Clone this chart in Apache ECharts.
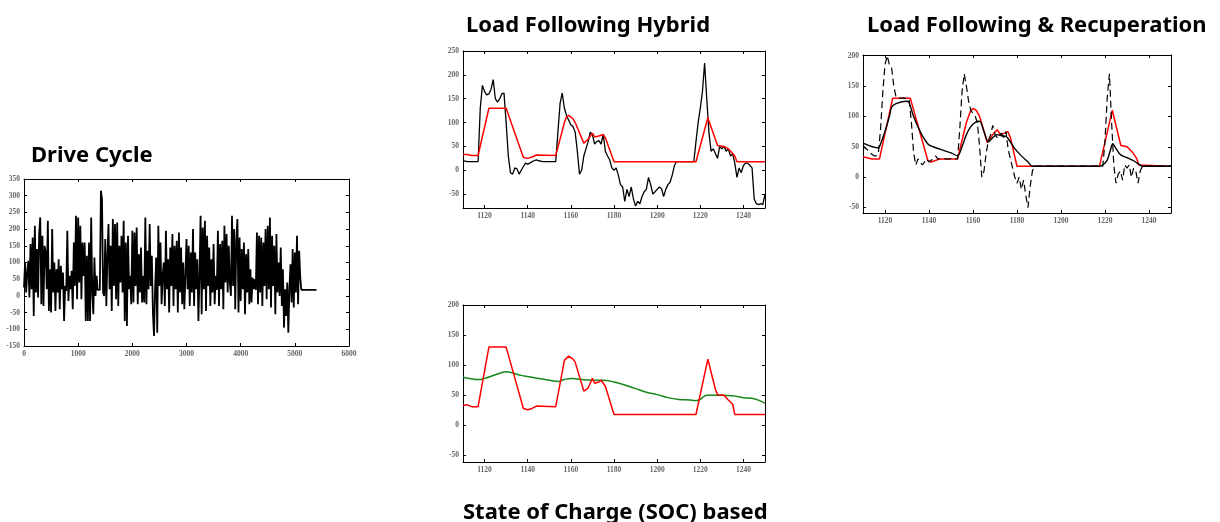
<!DOCTYPE html>
<html><head><meta charset="utf-8">
<script src="https://cdn.jsdelivr.net/npm/echarts@6/dist/echarts.min.js"></script>
<style>html,body{margin:0;padding:0;background:#fff}#c{width:1220px;height:522px}</style>
</head><body><div id="c"></div>
<script>
// ---------------- DATA ----------------
// Drive cycle: power demand sampled every 20 s from t = 0 s
const driveStart = 0;
const driveStep = 20;
const driveValues = [
  25, 100, 10, 70, 105, -5, 155, 20, 175, -60,
  210, 10, 140, -5, 185, 235, -25, 180, -30, 150,
  130, 20, 225, -45, 80, -50, 200, 10, 100, -45,
  80, 10, 110, -40, 90, 20, 70, -75, 30, 15,
  195, -15, 60, 20, 75, -40, 160, 30, 240, -10,
  235, 40, 210, -10, 160, 60, 160, -75, 120, -75,
  160, -75, 235, 10, -55, 115, 0, 60, 18, 20,
  18, 315, 290, 10, 0, 170, -30, 120, 215, 20,
  150, -45, 230, 30, 215, -10, 220, -30, 150, 40,
  180, 10, 225, -75, 160, -90, 180, 20, 60, -25,
  195, -20, 190, 30, 205, -25, 125, 10, 145, -20,
  60, -20, 235, -25, 135, 20, 215, 30, 120, -50,
  -120, 20, 115, -110, 210, 30, 160, -25, 60, 100,
  -30, 195, 20, 110, -50, 145, 30, 185, -30, 150,
  20, 165, -50, 190, 10, 145, -25, 100, -40, 60,
  170, 20, 150, -30, 130, 10, 200, -30, 130, 20,
  110, -75, 60, 240, -55, 205, 20, 225, -45, 180,
  30, 145, -30, 110, 10, 155, -25, 60, 18, 195,
  -30, 155, 20, 165, -40, 210, 40, 185, 10, 150,
  40, 0, 240, 30, 200, -40, 165, 230, -50, 175,
  -15, 140, 20, 160, -55, 125, 10, 140, -25, 80,
  -20, 55, 20, 50, 18, 190, -25, 180, 10, 175,
  -30, 160, 30, 200, -10, 210, 20, 235, -35, 180,
  30, 150, -55, 185, 10, 100, 0, 145, -30, 80,
  -95, 20, -60, 40, -110, 20, 95, -20, 140, -35,
  130, 10, 180, -25, 135, 55, 18, 18, 18, 18,
  18, 18, 18, 18, 18, 18, 18, 18, 18, 18, 18
];

// Zoomed window, 1 s samples from t = 1110 s
const zoomStart = 1110;
const zoomStep = 1;
const hybridDemand = [
  20, 19, 18, 18, 18, 18, 18, 18, 130, 178,
  165, 158, 160, 170, 190, 150, 143, 150, 160, 162,
  100, 30, -5, -8, 5, 3, -8, 0, 8, 15,
  13, 15, 18, 20, 22, 20, 19, 18, 18, 18,
  18, 18, 18, 18, 80, 140, 162, 130, 115, 105,
  95, 92, 80, 40, -8, 0, 30, 45, 60, 80,
  75, 55, 60, 62, 55, 75, 40, 30, 22, 5,
  0, 5, -10, -30, -35, -65, -40, -55, -35, -60,
  -75, -65, -70, -55, -45, -40, -15, -30, -50, -45,
  -40, -35, -38, -55, -40, -30, -25, -10, 10, 18,
  18, 18, 18, 18, 18, 18, 18, 18, 60, 100,
  130, 165, 225, 150, 80, 40, 45, 35, 25, 50,
  45, 50, 40, 45, 30, 35, 15, -15, 5, -5,
  10, 15, 15, 10, 5, -60, -70, -72, -70, -72,
  -50
];
const hybridEngineT = [1110, 1112, 1114, 1117, 1122, 1130, 1138, 1140, 1142, 1144, 1153, 1157, 1158, 1159, 1161, 1162, 1166, 1168, 1170, 1171, 1173, 1175, 1176, 1180, 1218, 1223.5, 1228, 1231, 1233, 1235, 1236, 1237, 1250];
const hybridEngineV = [33, 33, 31, 31, 130, 130, 27, 25, 28, 32, 31, 100, 112, 115, 108, 100, 57, 65, 78, 70, 72, 75, 68, 18, 18, 110, 52, 50, 45, 35, 30, 18, 18];

const recupDemand = [
  52, 48, 45, 40, 38, 35, 35, 40, 80, 140,
  185, 200, 185, 180, 150, 132, 130, 130, 130, 130,
  130, 128, 90, 40, 20, 30, 25, 20, 25, 30,
  25, 28, 30, 35, 30, 30, 30, 30, 30, 30,
  30, 30, 30, 30, 80, 140, 170, 150, 125, 110,
  105, 100, 90, 50, 0, 10, 40, 60, 70, 85,
  70, 65, 70, 72, 65, 75, 45, 30, 15, 0,
  -10, 0, -20, -5, -30, -50, -15, 10, 18, 18,
  18, 18, 18, 18, 18, 18, 18, 18, 18, 18,
  18, 18, 18, 18, 18, 18, 18, 18, 18, 18,
  18, 18, 18, 18, 18, 18, 18, 18, 18, 18,
  60, 130, 170, 90, 20, -10, 5, 10, -5, 20,
  15, 20, 0, 15, 10, -10, 10, 18, 18, 18,
  18, 18, 18, 18, 18, 18, 18, 18, 18, 18,
  18
];
const recupEngineT = [1110, 1112, 1114, 1117.5, 1123.5, 1131.5, 1139.5, 1141, 1145, 1153, 1157, 1159, 1160, 1161.5, 1163, 1166.5, 1169, 1171, 1172.5, 1174, 1175.8, 1177, 1180, 1217.5, 1223.3, 1227.2, 1230, 1232.7, 1234.5, 1235.3, 1236, 1250];
const recupEngineV = [33, 32, 30, 30, 130, 130, 27, 25, 30, 30, 90, 110, 113, 110, 100, 57, 70, 78, 70, 72, 75, 65, 18, 18, 110, 52, 50, 40, 30, 20, 18, 18];
const recupFilteredT = [1110, 1117, 1118, 1120, 1122, 1123, 1125, 1130, 1131, 1133, 1136, 1138, 1140, 1145, 1150, 1153, 1155, 1157, 1159, 1161, 1163, 1165, 1167, 1169, 1171, 1173, 1175, 1177, 1179, 1182, 1185, 1187, 1217, 1219, 1221, 1222.5, 1223.5, 1225, 1227, 1230, 1233, 1236, 1237, 1250];
const recupFilteredV = [56, 48, 55, 75, 100, 115, 121, 125, 122, 100, 75, 62, 53, 46, 40, 35, 50, 70, 83, 90, 92, 75, 58, 65, 70, 68, 67, 58, 47, 35, 25, 18, 18, 20, 28, 45, 55, 47, 37, 32, 27, 20, 18, 18];

const socEngineT = [1110, 1112, 1114, 1117, 1122, 1130, 1138, 1140, 1142, 1144, 1153, 1157, 1159, 1161, 1162, 1166, 1168, 1170, 1171, 1173, 1174, 1176, 1180, 1218, 1223.5, 1227, 1228, 1231, 1233, 1235, 1236, 1250];
const socEngineV = [33, 34, 31, 31, 130, 130, 28, 26, 28, 32, 31, 108, 115, 110, 105, 57, 62, 78, 70, 72, 75, 65, 18, 18, 110, 60, 51, 50, 42, 35, 18, 18];
const socT = [1110, 1113, 1117, 1120, 1125, 1130, 1133, 1137, 1140, 1145, 1150, 1154, 1157, 1160, 1163, 1165, 1170, 1175, 1180, 1185, 1190, 1195, 1200, 1205, 1210, 1215, 1218, 1220, 1223, 1230, 1235, 1240, 1245, 1250];
const socV = [80, 78, 76, 78, 84, 89, 87, 83, 81, 78, 75, 73, 76, 78, 77, 76, 75, 75, 72, 67, 61, 55, 51, 46, 43, 42, 41, 43, 50, 50, 49, 46, 44, 37];

// Tick labels
const driveXTicks = [0, 1000, 2000, 3000, 4000, 5000, 6000];
const driveYTicks = [-150, -100, -50, 0, 50, 100, 150, 200, 250, 300, 350];
const zoomXTicks = [1120, 1140, 1160, 1180, 1200, 1220, 1240];
const hybridYTicks = [-50, 0, 50, 100, 150, 200, 250];
const recupYTicks = [-50, 0, 50, 100, 150, 200];
const socYTicks = [-50, 0, 50, 100, 150, 200];

const titles = ['Drive Cycle', 'Load Following Hybrid', 'Load Following & Recuperation', 'State of Charge (SOC) based'];

// ---------------- BUILD ----------------
function sampled(start, step, vals) { return vals.map((v, i) => [start + i * step, v]); }
function pairs(t, v) { return t.map((x, i) => [x, v[i]]); }

const labelStyle = { color: '#666', fontSize: 7.5, fontFamily: 'Liberation Serif', fontWeight: 'bold', margin: 4, formatter: v => String(v) };
const tickBase = { show: true, inside: true, length: 3, lineStyle: { color: '#000' } };
function xAxes(g, min, max, ticks) {
  const base = { type: 'value', gridIndex: g, min, max, splitLine: { show: false },
    axisLine: { show: true, onZero: false, lineStyle: { color: '#000', width: 1 } } };
  return [
    Object.assign({}, base, { position: 'bottom', axisTick: Object.assign({ customValues: ticks }, tickBase), axisLabel: Object.assign({ customValues: ticks }, labelStyle) }),
    Object.assign({}, base, { position: 'top', axisTick: Object.assign({ customValues: ticks }, tickBase), axisLabel: { show: false } })
  ];
}
function yAxes(g, min, max, ticks) {
  const base = { type: 'value', gridIndex: g, min, max, splitLine: { show: false },
    axisLine: { show: true, onZero: false, lineStyle: { color: '#000', width: 1 } } };
  return [
    Object.assign({}, base, { position: 'left', axisTick: Object.assign({ customValues: ticks }, tickBase), axisLabel: Object.assign({ customValues: ticks }, labelStyle) }),
    Object.assign({}, base, { position: 'right', axisTick: Object.assign({ customValues: ticks }, tickBase), axisLabel: { show: false } })
  ];
}
function line(g, data, color, width, extra) {
  return Object.assign({ type: 'line', xAxisIndex: 2 * g, yAxisIndex: 2 * g, data, showSymbol: false, symbol: 'none',
    lineStyle: { color, width }, itemStyle: { color }, animation: false, clip: true, z: 2 }, extra || {});
}

const RED = '#ff0000', GREEN = '#16871a', BLACK = '#000000';
const titleFont = 'bold 22px "Noto Sans"';

const option = {
  backgroundColor: '#ffffff',
  animation: false,
  grid: [
    { left: 24, top: 179, width: 325, height: 167 },
    { left: 463, top: 51, width: 302, height: 157 },
    { left: 863, top: 55, width: 308, height: 158 },
    { left: 463, top: 305, width: 302, height: 157 }
  ],
  xAxis: [].concat(
    xAxes(0, 0, 6000, driveXTicks),
    xAxes(1, 1110, 1250, zoomXTicks),
    xAxes(2, 1110, 1250, zoomXTicks),
    xAxes(3, 1110, 1250, zoomXTicks)
  ),
  yAxis: [].concat(
    yAxes(0, -150, 350, driveYTicks),
    yAxes(1, -79, 250, hybridYTicks),
    yAxes(2, -59, 201, recupYTicks),
    yAxes(3, -61, 200, socYTicks)
  ),
  graphic: [
    { type: 'text', left: 31, top: 145, style: { text: titles[0], font: titleFont, fill: '#000' } },
    { type: 'text', left: 466, top: 15, style: { text: titles[1], font: titleFont, fill: '#000' } },
    { type: 'text', left: 867, top: 15, style: { text: titles[2], font: titleFont, fill: '#000' } },
    { type: 'text', left: 463, top: 502, style: { text: titles[3], font: titleFont, fill: '#000' } }
  ],
  series: [
    line(0, sampled(driveStart, driveStep, driveValues), BLACK, 1.8),
    line(1, sampled(zoomStart, zoomStep, hybridDemand), BLACK, 1.3),
    line(1, pairs(hybridEngineT, hybridEngineV), RED, 1.5, { z: 3 }),
    line(2, pairs(recupEngineT, recupEngineV), RED, 1.5),
    line(2, pairs(recupFilteredT, recupFilteredV), BLACK, 1.4, { z: 3, smooth: 0.3 }),
    line(2, sampled(zoomStart, zoomStep, recupDemand), BLACK, 1.2, { z: 4, lineStyle: { color: BLACK, width: 1.2, type: [7, 4] } }),
    line(3, pairs(socT, socV), GREEN, 1.5, { smooth: 0.4 }),
    line(3, pairs(socEngineT, socEngineV), RED, 1.5, { z: 3 })
  ]
};

const chart = echarts.init(document.getElementById('c'), null, { renderer: 'canvas' });
chart.setOption(option);
</script></body></html>
